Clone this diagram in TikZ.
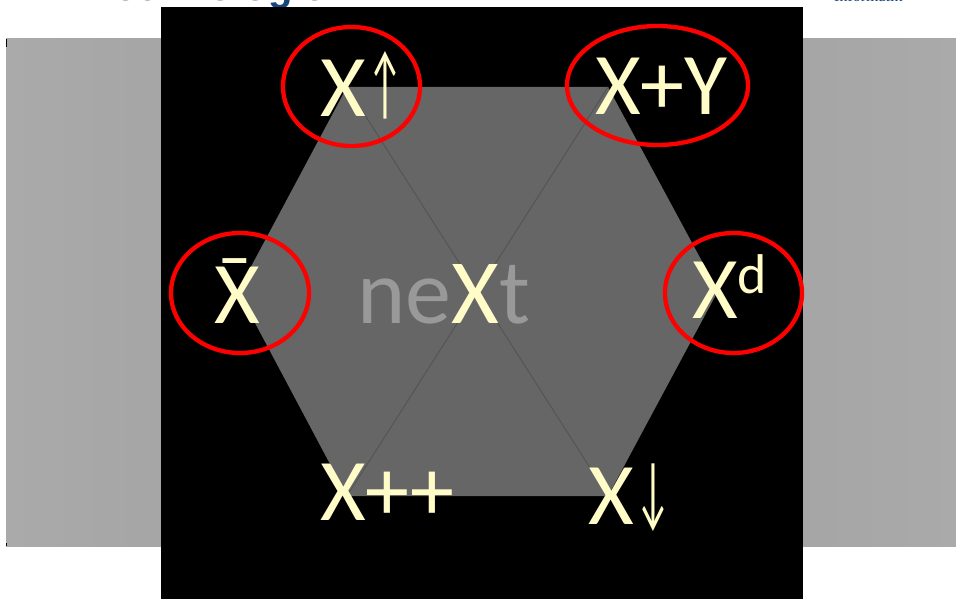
\documentclass[tikz,border=0pt]{standalone}
\usepackage{fontspec}
\setmainfont{Carlito}
\newfontfamily\hdrsans{Liberation Sans}
\newfontfamily\hdrserif{Liberation Serif}
\definecolor{lblyellow}{HTML}{FFFCC8}
\definecolor{hexgray}{HTML}{666666}
\definecolor{hexline}{HTML}{555555}
\definecolor{nextgray}{HTML}{999999}
\definecolor{ringred}{HTML}{FF0000}
\definecolor{hdrblue}{HTML}{15457A}
\definecolor{bandlight}{HTML}{AAAAAA}
\definecolor{banddark}{HTML}{9C9C9C}
\newcommand{\thinup}{\raisebox{6pt}{\scalebox{0.45}[0.92]{↑}}}
\newcommand{\thindown}{\raisebox{6pt}{\scalebox{0.45}[0.92]{↓}}}
\tikzset{
  lbl/.style={text=lblyellow, inner sep=0pt, anchor=base west, font=\fontsize{88}{88}\selectfont},
  ring/.style={draw=ringred, line width=4.3pt},
}
\begin{document}
\begin{tikzpicture}[x=1pt,y=-1pt]
\useasboundingbox (0,0) rectangle (956,599);
\clip (0,0) rectangle (956,599);
\fill[white] (0,0) rectangle (956,599);
% header fragments (clipped)
\node[inner sep=0pt, anchor=base west, text=hdrblue, font=\hdrsans\bfseries\fontsize{40}{40}\selectfont] (hdr) at (93,1) {Technologie};
\node[inner sep=0pt, anchor=base west, text=hdrblue, font=\hdrserif\fontsize{16}{16}\selectfont] (inf) at (834,2) {Informatik};
% gray band
\shade[left color=bandlight, right color=bandlight, middle color=banddark] (6,39) rectangle (956,546);
\fill[black] (6,39) rectangle (7,47);
\fill[black] (6,543) rectangle (7,546);
% black panel
\fill[black] (161,7) rectangle (803,599);
% hexagon
\coordinate (tl) at (347,87);
\coordinate (tr) at (608,87);
\coordinate (r) at (718,291);
\coordinate (br) at (608,496);
\coordinate (bl) at (347,496);
\coordinate (l) at (238,291);
\fill[hexgray] (tl) -- (tr) -- (r) -- (br) -- (bl) -- (l) -- cycle;
\draw[hexline, line width=1pt] (tl) -- (br);
\draw[hexline, line width=1pt] (tr) -- (bl);
% labels
\node[lbl] (up) at (320,117) {X\kern2pt\thinup};
\node[lbl] (sum) at (595,115) {X+Y};
\node[lbl] (neg) at (214,323) {\makebox[0pt][l]{\raisebox{9pt}{\kern3pt ¯}}X};
\node[lbl, font=\fontsize{92}{92}\selectfont] (nxt) at (357,323) {\textcolor{nextgray}{ne}X\textcolor{nextgray}{t}};
\node[lbl] (dual) at (692,318) {X\raisebox{25pt}{\fontsize{56}{56}\selectfont d}};
\node[lbl] (inc) at (320,520) {X++};
\node[lbl] (down) at (588,524) {X\kern2pt\thindown};
% rings
\draw[ring] (351.5,86.5) ellipse [x radius=68.5, y radius=59.5];
\draw[ring] (657.5,85.5) ellipse [x radius=90.5, y radius=59.5];
\draw[ring] (240,293) ellipse [x radius=69, y radius=60];
\draw[ring] (733.5,293) ellipse [x radius=68.5, y radius=60];
\end{tikzpicture}
\end{document}
